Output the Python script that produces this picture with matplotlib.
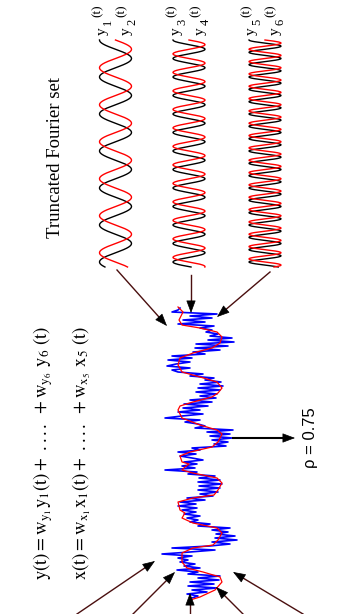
import numpy as np
import matplotlib
matplotlib.use("Agg")
import matplotlib.pyplot as plt

plt.rcParams['font.family'] = ['Liberation Serif', 'DejaVu Serif']
plt.rcParams['mathtext.fontset'] = 'stix'

# truncated Fourier set: three harmonics, each a (cos, sin) pair
wave_centres = [115.5, 189, 265]
harmonics = [1, 2, 3]
wave_labels = [('1', '2'), ('3', '4'), ('5', '6')]
label_x = [(102, 126), (176, 200), (251, 275)]
wave_amp = 16
wave_top, wave_bottom = 40, 267
base_period = 37.0

# red smooth signal y(t), traced as (position along t, value)
red_t = [307, 312, 320, 325, 328, 332, 337, 343, 348, 353, 358, 365, 372, 377,
         382, 388, 393, 397, 402, 406, 410, 418, 425, 430, 434, 442, 447, 452,
         456, 462, 464, 467, 470, 473, 478, 483, 490, 495, 498, 502, 510, 513,
         518, 523, 528, 533, 540, 545, 548, 553, 562, 568, 572, 577, 582, 590,
         597, 600]
red_v = [178, 183, 179, 182, 200, 217, 222, 220, 212, 193, 180, 178, 182, 200,
         217, 222, 218, 212, 193, 180, 178, 182, 200, 217, 222, 218, 212, 190,
         180, 182, 189, 185, 182, 193, 217, 222, 218, 214, 193, 178, 180, 185,
         182, 193, 217, 222, 218, 213, 193, 182, 182, 187, 203, 220, 222, 215,
         200, 190]

# blue noisy signal x(t), sampled every 2 px from 308 to 598
blue_v = [180, 178, 172, 217, 190, 212, 183, 205, 178, 214, 200, 212, 206, 218,
          210, 232, 208, 234, 196, 228, 195, 220, 193, 205, 172, 192, 168, 190,
          176, 167, 190, 172, 178, 203, 190, 214, 205, 221, 200, 223, 198, 220,
          196, 217, 200, 216, 190, 212, 184, 208, 183, 200, 178, 203, 182, 165,
          200, 185, 198, 205, 195, 233, 207, 230, 210, 232, 212, 228, 214, 226,
          192, 200, 178, 196, 180, 192, 203, 184, 197, 182, 195, 165, 197, 188,
          215, 199, 220, 198, 222, 199, 220, 198, 218, 200, 213, 187, 205, 180,
          196, 178, 197, 182, 196, 184, 200, 187, 198, 190, 210, 198, 230, 212,
          228, 216, 235, 215, 237, 212, 230, 210, 172, 215, 190, 162, 192, 178,
          188, 180, 195, 184, 200, 177, 198, 188, 220, 198, 219, 190, 214, 188,
          217, 192, 207, 187, 198, 192]
blue_t = np.arange(308, 308 + 2 * len(blue_v), 2)

# arrows: (start, tip)
top_arrows = [((117, 270), (167, 326)), ((191, 275), (191, 313)), ((270, 272), (217, 317))]
bottom_arrows = [((77, 614), (155, 561)), ((133, 614), (175, 572)), ((190, 614), (190, 593)),
                 ((243, 614), (216, 587)), ((303, 614), (233, 572))]
rho_arrow = ((233, 438), (295, 438))
rho_value = 0.75

fig = plt.figure(figsize=(3.61, 6.14), dpi=100)
ax = fig.add_axes([0, 0, 1, 1])
ax.set_xlim(0, 361)
ax.set_ylim(614, 0)
ax.axis('off')

s = np.linspace(0, wave_bottom - wave_top, 800)
for c, k, labs, lx in zip(wave_centres, harmonics, wave_labels, label_x):
    ph = 2 * np.pi * k * s / base_period
    ax.plot(c - wave_amp * np.cos(ph), wave_top + s, color='black', lw=1.0)
    ax.plot(c + wave_amp * np.sin(ph), wave_top + s, color='red', lw=1.0)
    for lab, xx in zip(labs, lx):
        # y, lowered index, raised (t) -- pieces placed one after another
        ax.text(xx, 35, 'y', rotation=90, ha='center', va='bottom', fontsize=11)
        ax.text(xx + 6, 25, lab, rotation=90, ha='center', va='bottom', fontsize=9)
        ax.text(xx - 4, 17, '(t)', rotation=90, ha='center', va='bottom', fontsize=9.5)

ax.plot(blue_v, blue_t, color='blue', lw=1.2)
ax.plot(red_v, red_t, color='red', lw=0.9)

line_col = '#4a0f0f'


def arrow(p0, p1, lc, lw=1.0):
    p0 = np.array(p0, float)
    p1 = np.array(p1, float)
    d = (p1 - p0) / np.hypot(*(p1 - p0))
    ax.plot([p0[0], p1[0] - 6 * d[0]], [p0[1], p1[1] - 6 * d[1]], color=lc, lw=lw)
    ax.annotate('', xy=p1, xytext=p1 - 12 * d,
                arrowprops=dict(arrowstyle='-|>,head_length=0.8,head_width=0.3',
                                color='black', lw=0.5, shrinkA=0, shrinkB=0))


for p0, p1 in top_arrows + bottom_arrows:
    arrow(p0, p1, line_col)
arrow(rho_arrow[0], rho_arrow[1], 'black', lw=1.5)

ax.text(310, 438, '\u03c1 = %.2f' % rho_value, rotation=90, ha='center', va='center',
        fontsize=12, family=['Liberation Sans', 'DejaVu Sans'])
ax.text(56, 157, 'Truncated Fourier set', rotation=90, ha='center', va='center', fontsize=13.5)
ax.text(43, 453, r'$\mathrm{y(t) = w_{y_1} y_1(t) +\ ....\ + w_{y_6}\ y_6\ (t)}$',
        rotation=90, ha='center', va='center', fontsize=13.5)
ax.text(82, 453, r'$\mathrm{x(t) = w_{x_1} x_1(t) +\ ....\ + w_{x_5}\ x_5\ (t)}$',
        rotation=90, ha='center', va='center', fontsize=13.5)

fig.savefig('out.png', dpi=100)
